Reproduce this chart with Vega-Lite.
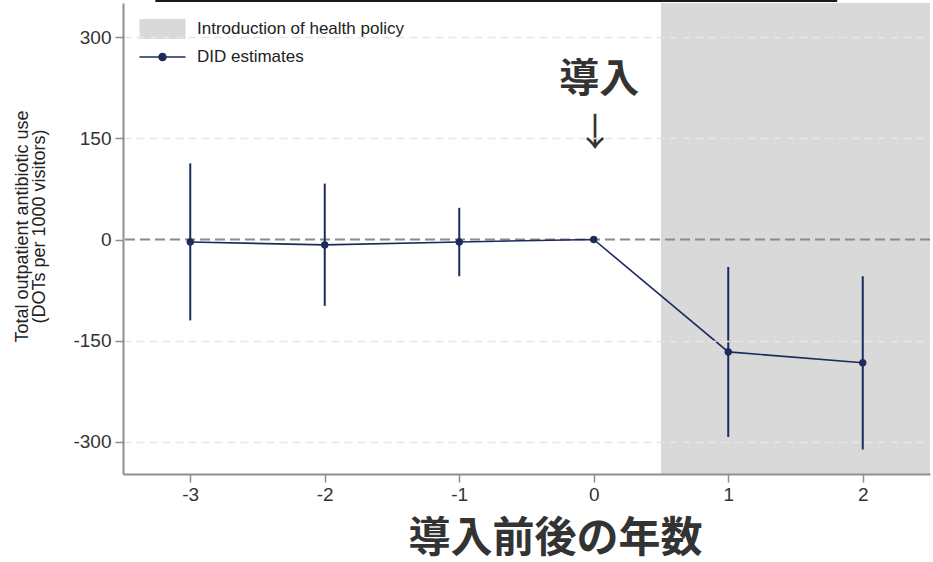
{
  "$schema": "https://vega.github.io/schema/vega-lite/v6.json",
  "width": 807,
  "height": 471,
  "autosize": {"type": "none"},
  "padding": {"left": 123, "top": 3, "right": 3, "bottom": 88},
  "background": "white",
  "config": {"view": {"stroke": null}, "font": "Liberation Sans"},
  "datasets": {
    "est": [
      {"x": -3, "y": -3.6, "lo": -120, "hi": 113, "series": "DID estimates"},
      {"x": -2, "y": -8, "lo": -98.5, "hi": 83, "series": "DID estimates"},
      {"x": -1, "y": -3.6, "lo": -54.5, "hi": 47, "series": "DID estimates"},
      {"x": 0, "y": 0, "lo": 0, "hi": 0, "series": "DID estimates"},
      {"x": 1, "y": -166.8, "lo": -293, "hi": -40.7, "series": "DID estimates"},
      {"x": 2, "y": -183, "lo": -311.6, "hi": -54.5, "series": "DID estimates"}
    ],
    "policy": [{"start": 0.5, "end": 2.5, "series": "Introduction of health policy"}],
    "notes": [
      {"x": 0.04, "y": 237, "label": "導入", "kind": "word"},
      {"x": 0.01, "y": 157, "label": "↓", "kind": "arrow"}
    ]
  },
  "layer": [
    {
      "data": {"name": "policy"},
      "mark": {"type": "rect", "opacity": 1},
      "encoding": {
        "x": {"field": "start", "type": "quantitative", "scale": {"domain": [-3.5, 2.5], "nice": false, "zero": false}},
        "x2": {"field": "end"},
        "y": {"datum": 351, "type": "quantitative", "scale": {"domain": [-348, 351], "nice": false, "zero": false}},
        "y2": {"datum": -348},
        "fill": {
          "field": "series", "type": "nominal",
          "scale": {"domain": ["Introduction of health policy"], "range": ["#d9d9d9"]},
          "legend": {
            "orient": "none", "legendX": 31, "legendY": 17.5, "title": null, "padding": 0,
            "symbolType": "M-4.6,-2H4.6V2H-4.6Z", "symbolSize": 100, "symbolStrokeWidth": 0,
            "labelOffset": 26, "labelLimit": 400,
            "labelFont": "Liberation Sans", "labelFontSize": 17, "labelColor": "#222"
          }
        }
      }
    },
    {
      "data": {"values": [{}]},
      "mark": {"type": "rule", "color": "#8a8a8a", "strokeWidth": 2, "strokeDash": [10, 5]},
      "encoding": {
        "y": {"datum": 0, "type": "quantitative", "scale": {"domain": [-348, 351], "nice": false, "zero": false}}
      }
    },
    {
      "data": {"name": "est"},
      "mark": {"type": "rule", "strokeWidth": 2},
      "encoding": {
        "x": {"field": "x", "type": "quantitative", "scale": {"domain": [-3.5, 2.5], "nice": false, "zero": false}},
        "y": {"field": "lo", "type": "quantitative", "scale": {"domain": [-348, 351], "nice": false, "zero": false}},
        "y2": {"field": "hi"},
        "stroke": {
          "field": "series", "type": "nominal",
          "scale": {"domain": ["DID estimates"], "range": ["#1d2b5c"]},
          "legend": {
            "orient": "none", "legendX": 31, "legendY": 45.5, "title": null, "padding": 0,
            "symbolType": "M-4.6,0H4.6M-0.7,0A0.7,0.7 0 1 1 0.7,0A0.7,0.7 0 1 1 -0.7,0Z",
            "symbolSize": 100, "symbolFillColor": "#1d2b5c", "symbolStrokeWidth": 1.5,
            "labelOffset": 26, "labelLimit": 400,
            "labelFont": "Liberation Sans", "labelFontSize": 17, "labelColor": "#222"
          }
        }
      }
    },
    {
      "data": {"name": "est"},
      "mark": {"type": "line", "strokeWidth": 1.6},
      "encoding": {
        "x": {"field": "x", "type": "quantitative", "scale": {"domain": [-3.5, 2.5], "nice": false, "zero": false}},
        "y": {"field": "y", "type": "quantitative", "scale": {"domain": [-348, 351], "nice": false, "zero": false}},
        "stroke": {
          "field": "series", "type": "nominal",
          "scale": {"domain": ["DID estimates"], "range": ["#1d2b5c"]},
          "legend": {
            "orient": "none", "legendX": 31, "legendY": 45.5, "title": null, "padding": 0,
            "symbolType": "M-4.6,0H4.6M-0.7,0A0.7,0.7 0 1 1 0.7,0A0.7,0.7 0 1 1 -0.7,0Z",
            "symbolSize": 100, "symbolFillColor": "#1d2b5c", "symbolStrokeWidth": 1.5,
            "labelOffset": 26, "labelLimit": 400,
            "labelFont": "Liberation Sans", "labelFontSize": 17, "labelColor": "#222"
          }
        }
      }
    },
    {
      "data": {"name": "est"},
      "mark": {"type": "point", "filled": true, "size": 45, "opacity": 1, "strokeWidth": 1},
      "encoding": {
        "x": {
          "field": "x", "type": "quantitative",
          "scale": {"domain": [-3.5, 2.5], "nice": false, "zero": false},
          "axis": {
            "values": [-3, -2, -1, 0, 1, 2], "labelExpr": "toString(datum.value)",
            "title": "導入前後の年数", "titleFont": "Noto Sans CJK JP", "titleFontSize": 42, "titleFontWeight": "bold", "titleColor": "#333",
            "titleX": 432, "titleY": 64, "titleBaseline": "middle", "titleAlign": "center",
            "labelFont": "Liberation Sans", "labelFontSize": 19, "labelColor": "#333", "labelPadding": 3,
            "tickSize": 8, "tickColor": "#8f8f8f", "tickWidth": 1.5,
            "domainColor": "#8f8f8f", "domainWidth": 2, "grid": false, "zindex": 1
          }
        },
        "y": {
          "field": "y", "type": "quantitative",
          "scale": {"domain": [-348, 351], "nice": false, "zero": false},
          "axis": {
            "values": [-300, -150, 0, 150, 300], "labelExpr": "toString(datum.value)",
            "title": ["Total outpatient antibiotic use", "(DOTs per 1000 visitors)"],
            "titleFont": "Liberation Sans", "titleFontSize": 18, "titleFontWeight": "normal", "titleColor": "#222",
            "titleLineHeight": 17, "titleAngle": 270, "titleX": -101, "titleY": 223, "titleBaseline": "middle", "titleAlign": "center",
            "labelFont": "Liberation Sans", "labelFontSize": 19, "labelColor": "#333", "labelPadding": 4,
            "tickSize": 8, "tickColor": "#8f8f8f", "tickWidth": 1.5,
            "domainColor": "#8f8f8f", "domainWidth": 2,
            "grid": true,
            "gridColor": {"condition": {"test": "datum.value === 0", "value": "transparent"}, "value": "#e6e6e6"},
            "gridDash": [8, 5], "gridWidth": 1.5, "zindex": 1
          }
        },
        "fill": {"value": "#1d2b5c"},
        "stroke": {
          "field": "series", "type": "nominal",
          "scale": {"domain": ["DID estimates"], "range": ["#1d2b5c"]},
          "legend": {
            "orient": "none", "legendX": 31, "legendY": 45.5, "title": null, "padding": 0,
            "symbolType": "M-4.6,0H4.6M-0.7,0A0.7,0.7 0 1 1 0.7,0A0.7,0.7 0 1 1 -0.7,0Z",
            "symbolSize": 100, "symbolFillColor": "#1d2b5c", "symbolStrokeWidth": 1.5,
            "labelOffset": 26, "labelLimit": 400,
            "labelFont": "Liberation Sans", "labelFontSize": 17, "labelColor": "#222"
          }
        }
      }
    },
    {
      "data": {"name": "notes"},
      "transform": [{"filter": "datum.kind === 'word'"}],
      "mark": {"type": "text", "font": "Noto Sans CJK JP", "fontWeight": "bold", "fontSize": 40, "color": "#333", "baseline": "middle", "align": "center"},
      "encoding": {
        "x": {"field": "x", "type": "quantitative", "scale": {"domain": [-3.5, 2.5], "nice": false, "zero": false}},
        "y": {"field": "y", "type": "quantitative", "scale": {"domain": [-348, 351], "nice": false, "zero": false}},
        "text": {"field": "label"}
      }
    },
    {
      "data": {"name": "notes"},
      "transform": [{"filter": "datum.kind === 'arrow'"}],
      "mark": {"type": "text", "font": "Noto Sans CJK JP", "fontWeight": "normal", "fontSize": 38, "color": "#333", "baseline": "middle", "align": "center"},
      "encoding": {
        "x": {"field": "x", "type": "quantitative", "scale": {"domain": [-3.5, 2.5], "nice": false, "zero": false}},
        "y": {"field": "y", "type": "quantitative", "scale": {"domain": [-348, 351], "nice": false, "zero": false}},
        "text": {"field": "label"}
      }
    },
    {
      "data": {"values": [{}]},
      "mark": {"type": "rule", "color": "#1a1a1a", "strokeWidth": 2.5, "clip": false},
      "encoding": {
        "x": {"datum": -3.26, "type": "quantitative", "scale": {"domain": [-3.5, 2.5], "nice": false, "zero": false}},
        "x2": {"datum": 1.81},
        "y": {"datum": 354.5, "type": "quantitative", "scale": {"domain": [-348, 351], "nice": false, "zero": false}}
      }
    }
  ]
}
